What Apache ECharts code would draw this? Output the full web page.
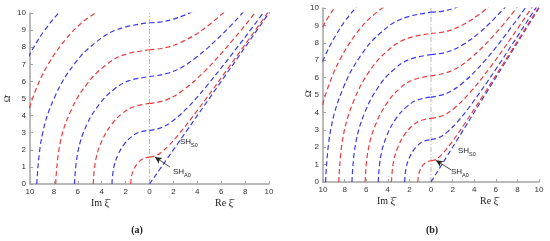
<!DOCTYPE html>
<html>
<head>
<meta charset="utf-8">
<script src="https://cdn.jsdelivr.net/npm/echarts@6/dist/echarts.min.js"></script>
<style>html,body{margin:0;padding:0;background:#fff}#chart{width:550px;height:241px}</style>
</head>
<body>
<div id="chart"></div>
<script>
// ticks on x: left half is Im, right half is Re (shown as |x|)
var xTicks = [-10, -8, -6, -4, -2, 0, 2, 4, 6, 8, 10];
var yTicks = [0, 1, 2, 3, 4, 5, 6, 7, 8, 9, 10];

// panel (a): imaginary branches (x<0), n = 1..8
var aIm = [
  [[-1.57,0],[-1.50,0.47],[-1.31,0.86],[-1.04,1.18],[-0.75,1.38],[-0.44,1.51],[0,1.57]],
  [[-3.14,0],[-3.00,0.94],[-2.62,1.73],[-2.08,2.36],[-1.49,2.77],[-0.88,3.02],[0,3.14]],
  [[-4.71,0],[-4.50,1.41],[-3.94,2.59],[-3.12,3.53],[-2.24,4.15],[-1.32,4.52],[0,4.71]],
  [[-6.28,0],[-5.99,1.89],[-5.25,3.46],[-4.15,4.71],[-2.98,5.53],[-1.76,6.03],[0,6.28]],
  [[-7.85,0],[-7.49,2.36],[-6.56,4.32],[-5.19,5.89],[-3.73,6.91],[-2.20,7.54],[0,7.85]],
  [[-9.43,0],[-8.99,2.83],[-7.87,5.18],[-6.23,7.07],[-4.48,8.29],[-2.64,9.05],[0,9.43]],
  [[-10.24,4.0],[-9.52,5.5],[-8.48,7.0],[-6.97,8.5],[-5.54,9.5],[-3.85,10.3]],
  [[-10.44,7.0],[-9.69,8.0],[-8.77,9.0],[-7.61,10.0],[-6.90,10.5]]
];
// panel (a): real branches (x>0), n = 0..6
var aRe = [
  [[0,0],[10.5,10.5]],
  [[0,1.57],[0.47,1.64],[0.94,1.83],[1.57,2.22],[2.36,2.83],[3.93,4.23],[6.28,6.48],[10.21,10.33]],
  [[0,3.14],[0.94,3.28],[1.89,3.66],[3.14,4.44],[4.71,5.67],[7.86,8.46],[10.0,10.48]],
  [[0,4.71],[1.41,4.92],[2.83,5.50],[4.71,6.66],[7.07,8.50],[9.0,10.16]],
  [[0,6.28],[1.89,6.56],[3.77,7.33],[6.28,8.89],[8.0,10.17]],
  [[0,7.85],[1.5,8.00],[3.0,8.41],[4.5,9.05],[6.5,10.20]],
  [[0,9.43],[1.0,9.48],[2.0,9.64],[3.0,9.89],[3.8,10.16]]
];
// panel (b): imaginary branches, n = 1..11
var bIm = [
  [[-1.22,0],[-1.16,0.37],[-1.02,0.67],[-0.81,0.92],[-0.58,1.07],[-0.34,1.17],[0,1.22]],
  [[-2.44,0],[-2.33,0.73],[-2.04,1.34],[-1.61,1.83],[-1.16,2.15],[-0.68,2.34],[0,2.44]],
  [[-3.66,0],[-3.49,1.10],[-3.06,2.01],[-2.42,2.75],[-1.74,3.22],[-1.03,3.51],[0,3.66]],
  [[-4.88,0],[-4.66,1.46],[-4.08,2.68],[-3.23,3.66],[-2.32,4.29],[-1.37,4.69],[0,4.88]],
  [[-6.10,0],[-5.82,1.83],[-5.09,3.36],[-4.03,4.58],[-2.90,5.37],[-1.71,5.86],[0,6.10]],
  [[-7.32,0],[-6.98,2.20],[-6.11,4.03],[-4.84,5.49],[-3.48,6.44],[-2.05,7.03],[0,7.32]],
  [[-8.54,0],[-8.15,2.56],[-7.13,4.70],[-5.65,6.41],[-4.06,7.52],[-2.39,8.20],[0,8.54]],
  [[-9.76,0],[-9.31,2.93],[-8.15,5.37],[-6.45,7.32],[-4.64,8.59],[-2.73,9.37],[0,9.76]],
  [[-10.23,4.0],[-9.50,5.5],[-8.46,7.0],[-6.95,8.5],[-5.51,9.5],[-3.80,10.3]],
  [[-10.32,6.5],[-9.62,7.5],[-8.75,8.5],[-7.90,9.3],[-6.99,10.0],[-6.21,10.5]],
  [[-10.39,8.5],[-9.95,9.0],[-9.48,9.5],[-8.95,10.0],[-8.36,10.5]]
];
// panel (b): real branches, n = 0..8
var bRe = [
  [[0,0],[10.5,10.5]],
  [[0,1.22],[0.37,1.27],[0.73,1.42],[1.22,1.73],[1.83,2.20],[3.05,3.29],[4.88,5.03],[7.5,7.60],[10.2,10.27]],
  [[0,2.44],[0.73,2.55],[1.46,2.85],[2.44,3.45],[3.66,4.40],[6.1,6.57],[10.0,10.29]],
  [[0,3.66],[1.10,3.82],[2.20,4.27],[3.66,5.18],[5.49,6.60],[7.5,8.35],[9.5,10.18]],
  [[0,4.88],[1.46,5.10],[2.93,5.69],[4.88,6.90],[7.0,8.53],[9.0,10.24]],
  [[0,6.10],[1.83,6.37],[3.66,7.11],[6.1,8.63],[8.2,10.22]],
  [[0,7.32],[1.5,7.47],[3.0,7.91],[4.5,8.59],[5.5,9.16],[7.0,10.13]],
  [[0,8.54],[1.5,8.67],[3.0,9.05],[4.5,9.65],[5.5,10.16]],
  [[0,9.76],[1.0,9.81],[2.0,9.96],[2.6,10.10]]
];
var centerLine = [[0,0],[0,10]];
// arrows to SH_A0 (from, to) in data units
var arrowA = [[1.70,1.0],[0.45,1.58]];
var arrowB = [[1.85,0.70],[0.45,1.25]];

var RED = '#ee3c3c', BLUE = '#3a3aea', AXIS = '#a3a3a3';

var chart = echarts.init(document.getElementById('chart'));

function xAx(gi) {
  return {
    type: 'value', gridIndex: gi, min: -10, max: 10, interval: 2,
    axisLine: {onZero: false, lineStyle: {color: AXIS, width: 1.5}},
    axisTick: {inside: true, length: 3, lineStyle: {color: AXIS}},
    axisLabel: {fontSize: 8, color: '#333', margin: 4, fontFamily: 'Liberation Sans',
      formatter: function (v) { return Math.abs(v); }},
    splitLine: {show: false}
  };
}
function yAx(gi) {
  return {
    type: 'value', gridIndex: gi, min: 0, max: 10, interval: 1,
    axisLine: {show: true, onZero: false, lineStyle: {color: AXIS, width: 1.5}},
    axisTick: {show: true, inside: true, length: 3, lineStyle: {color: AXIS}},
    axisLabel: {fontSize: 8, color: '#333', margin: 4, fontFamily: 'Liberation Sans'},
    splitLine: {show: false}
  };
}

var series = [];
function addCurves(list, gi, redOdd) {
  list.forEach(function (pts, i) {
    var n = redOdd ? i + 1 : i;
    series.push({
      type: 'line', xAxisIndex: gi, yAxisIndex: gi, data: pts,
      showSymbol: false, smooth: 0.4, silent: true,
      lineStyle: {color: n % 2 ? RED : BLUE, width: 1.2, type: [5, 3]}
    });
  });
}
addCurves(aIm, 0, true);
addCurves(aRe, 0, false);
addCurves(bIm, 1, true);
addCurves(bRe, 1, false);

[0, 1].forEach(function (gi) {
  var arr = gi === 0 ? arrowA : arrowB;
  series.push({
    type: 'line', xAxisIndex: gi, yAxisIndex: gi, data: centerLine,
    showSymbol: false, silent: true, z: 1,
    lineStyle: {color: '#b8b8b8', width: 1, type: [5, 2, 1, 2]},
    markLine: {
      silent: true, symbol: ['none', 'arrow'], symbolSize: [5, 7],
      label: {show: false},
      lineStyle: {color: '#222', width: 0.8, type: 'solid'},
      data: [[{coord: arr[0]}, {coord: arr[1]}]]
    }
  });
});

function txt(x, y, s, size, opts) {
  opts = opts || {};
  return {
    type: 'text', x: x, y: y, rotation: opts.rot || 0,
    style: {text: s, fontSize: size, fontFamily: opts.font || 'Liberation Serif',
      fontWeight: opts.bold ? 'bold' : 'normal', fill: opts.color || '#222',
      align: opts.align || 'center', verticalAlign: 'middle'}
  };
}

chart.setOption({
  animation: false,
  grid: [
    {left: 30, top: 13, width: 239, height: 171},
    {left: 323, top: 8, width: 216, height: 174}
  ],
  xAxis: [xAx(0), xAx(1)],
  yAxis: [yAx(0), yAx(1)],
  series: series,
  graphic: [
    txt(100, 203, 'Im \u03be\u0304', 10),
    txt(224, 203, 'Re \u03be\u0304', 10),
    txt(137, 230, '(a)', 10, {bold: true}),
    txt(8, 99, '\u03a9\u0304', 9, {rot: Math.PI / 2}),
    txt(386, 201, 'Im \u03be\u0304', 10),
    txt(489, 201, 'Re \u03be\u0304', 10),
    txt(432, 230, '(b)', 10, {bold: true}),
    txt(309, 94, '\u03a9\u0304', 9, {rot: Math.PI / 2}),
    txt(180, 142, 'SH', 8, {font: 'Liberation Sans', align: 'left'}),
    txt(191, 145, 'S0', 5.5, {font: 'Liberation Sans', align: 'left'}),
    txt(173, 172, 'SH', 8, {font: 'Liberation Sans', align: 'left'}),
    txt(184, 175, 'A0', 5.5, {font: 'Liberation Sans', align: 'left'}),
    txt(458, 151, 'SH', 8, {font: 'Liberation Sans', align: 'left'}),
    txt(469, 154, 'S0', 5.5, {font: 'Liberation Sans', align: 'left'}),
    txt(451, 172, 'SH', 8, {font: 'Liberation Sans', align: 'left'}),
    txt(462, 175, 'A0', 5.5, {font: 'Liberation Sans', align: 'left'})
  ]
});
</script>
</body>
</html>
